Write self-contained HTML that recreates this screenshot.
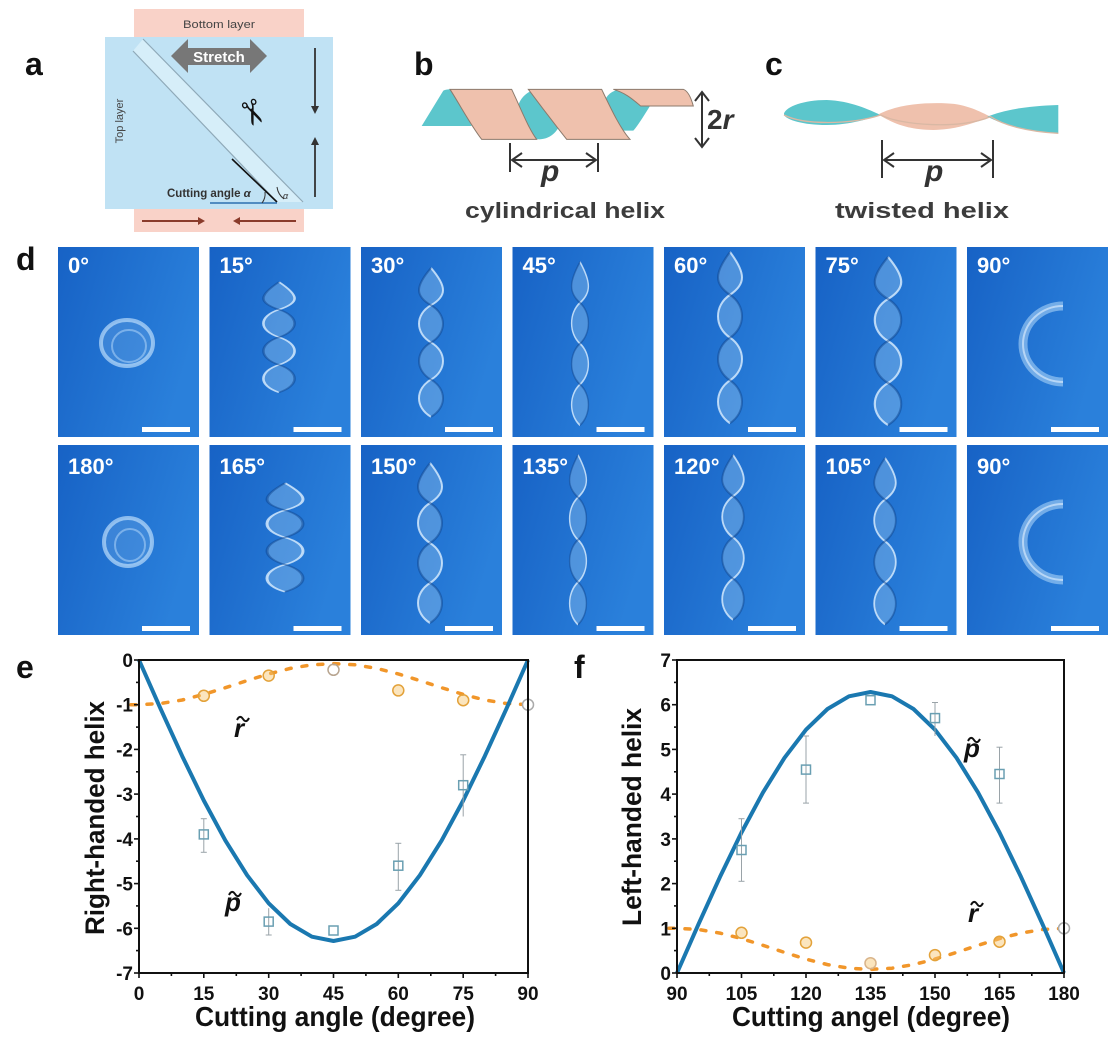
<!DOCTYPE html>
<html><head><meta charset="utf-8">
<style>
html,body{margin:0;padding:0;background:#fff;}
svg{display:block;}
</style></head>
<body>
<svg width="1116" height="1038" viewBox="0 0 1116 1038" xmlns="http://www.w3.org/2000/svg" font-family="'Liberation Sans', Arial, sans-serif">
<defs>
<linearGradient id="tg" x1="0" y1="0" x2="1" y2="0.4">
<stop offset="0" stop-color="#1762c5"/><stop offset="1" stop-color="#2a80db"/>
</linearGradient>
<g id="tw">
<path d="M0,0 C16,20 16,30 0,40 C-16,50 -16,70 0,80 C16,90 16,110 0,120 C-16,130 -16,150 0,160 C16,150 16,130 0,120 C-16,110 -16,90 0,80 C16,70 16,50 0,40 C-16,30 -16,20 0,0Z" fill="#a6d0f4" fill-opacity="0.35"/>
<path d="M0,0 C16,20 16,30 0,40 C-16,50 -16,70 0,80 C16,90 16,110 0,120 C-16,130 -16,150 0,160" fill="none" stroke="#dcefff" stroke-opacity="0.8" stroke-width="2"/>
<path d="M0,0 C-16,20 -16,30 0,40 C16,50 16,70 0,80 C-16,90 -16,110 0,120 C16,130 16,150 0,160" fill="none" stroke="#0b3f85" stroke-opacity="0.45" stroke-width="2"/>
</g>
</defs>

<!-- ================= Panel a ================= -->
<text x="25" y="75" font-size="32" font-weight="bold" fill="#111">a</text>
<rect x="134" y="9" width="170" height="223" fill="#f9d2c8"/>
<rect x="105" y="37" width="228" height="172" fill="#c0e2f4"/>
<text x="219" y="28" font-size="11" text-anchor="middle" fill="#444" textLength="72" lengthAdjust="spacingAndGlyphs">Bottom layer</text>
<polygon points="133,51 143,39 303,202 277,202" fill="#d6eef9"/>
<line x1="133" y1="51" x2="277" y2="202" stroke="#8fa9b8" stroke-width="1.2"/>
<line x1="143" y1="39" x2="303" y2="202" stroke="#8fa9b8" stroke-width="1.2"/>
<polygon points="171,56 188,39 188,48 250,48 250,39 267,56 250,73 250,65 188,65 188,73" fill="#777"/>
<text x="219" y="62" font-size="15" font-weight="bold" fill="#fff" text-anchor="middle">Stretch</text>
<text x="0" y="0" font-size="34" fill="#111" transform="translate(236,104) rotate(68)" font-family="'DejaVu Sans', sans-serif">✂</text>
<text transform="translate(123,121) rotate(-90)" font-size="11" text-anchor="middle" fill="#444">Top layer</text>
<line x1="315" y1="48" x2="315" y2="108" stroke="#333" stroke-width="1.8"/>
<polygon points="311,106 319,106 315,114" fill="#333"/>
<line x1="315" y1="197" x2="315" y2="143" stroke="#333" stroke-width="1.8"/>
<polygon points="311,145 319,145 315,137" fill="#333"/>
<line x1="232" y1="159" x2="277" y2="202" stroke="#111" stroke-width="1.6"/>
<line x1="210" y1="203" x2="277" y2="203" stroke="#2a6fb0" stroke-width="1.6"/>
<path d="M262,203 A15,15 0 0 0 265,192" fill="none" stroke="#333" stroke-width="1"/>
<path d="M277,187 A18,18 0 0 0 284,199" fill="none" stroke="#333" stroke-width="1"/>
<text x="167" y="197" font-size="11.5" font-weight="bold" fill="#333">Cutting angle <tspan font-style="italic">α</tspan></text>
<text x="283" y="199" font-size="9" font-style="italic" fill="#333">α</text>
<line x1="142" y1="221" x2="200" y2="221" stroke="#8a3b2b" stroke-width="2"/>
<polygon points="198,217 205,221 198,225" fill="#8a3b2b"/>
<line x1="296" y1="221" x2="238" y2="221" stroke="#8a3b2b" stroke-width="2"/>
<polygon points="240,217 233,221 240,225" fill="#8a3b2b"/>

<!-- ================= Panel b ================= -->
<text x="414" y="75" font-size="32" font-weight="bold" fill="#111">b</text>
<g transform="translate(400,50) scale(0.3333)">
<path d="M65,228 L130,122 Q140,117 158,118 C185,160 200,200 215,228 Z" fill="#5cc6cc"/>
<ellipse cx="418" cy="193" rx="68" ry="75" fill="#5cc6cc"/>
<path d="M615,150 Q630,118 670,118 L720,118 L750,168 C730,200 715,225 700,242 L660,242 C635,215 620,185 615,150 Z" fill="#5cc6cc"/>
<path d="M150,118 L335,118 C360,170 385,235 410,268 L245,268 C215,230 180,165 150,118 Z" fill="#efc1ad" stroke="#8c7a6c" stroke-width="3"/>
<path d="M385,118 L605,118 C630,170 660,235 690,268 L500,268 C470,230 420,165 385,118 Z" fill="#efc1ad" stroke="#8c7a6c" stroke-width="3"/>
<path d="M640,118 L850,118 Q868,124 880,168 L722,168 C700,150 680,130 640,118 Z" fill="#efc1ad" stroke="#8c7a6c" stroke-width="3"/>
</g>
<line x1="510" y1="143" x2="510" y2="172" stroke="#333" stroke-width="2"/>
<line x1="598" y1="143" x2="598" y2="172" stroke="#333" stroke-width="2"/>
<line x1="512" y1="160" x2="596" y2="160" stroke="#333" stroke-width="2"/>
<polyline points="522,153 512,160 522,167" fill="none" stroke="#333" stroke-width="2"/>
<polyline points="586,153 596,160 586,167" fill="none" stroke="#333" stroke-width="2"/>
<text x="541" y="181" font-size="30" font-weight="bold" font-style="italic" fill="#333">p</text>
<line x1="702" y1="93" x2="702" y2="146" stroke="#333" stroke-width="2"/>
<polyline points="695,101 702,92 709,101" fill="none" stroke="#333" stroke-width="2"/>
<polyline points="695,138 702,147 709,138" fill="none" stroke="#333" stroke-width="2"/>
<text x="707" y="129" font-size="28" font-weight="bold" fill="#333">2<tspan font-style="italic">r</tspan></text>
<text x="565" y="218" font-size="22" font-weight="bold" fill="#3c3c3c" text-anchor="middle" textLength="200" lengthAdjust="spacingAndGlyphs">cylindrical helix</text>

<!-- ================= Panel c ================= -->
<text x="765" y="75" font-size="32" font-weight="bold" fill="#111">c</text>
<g transform="translate(760,50) scale(0.3333)">
<path d="M72,190 C80,170 130,150 200,150 C270,152 330,180 362,195 C330,205 270,225 200,225 C130,225 80,210 72,195 Z" fill="#5cc6cc"/>
<path d="M355,193 C420,160 500,158 560,160 C620,162 660,185 692,200 C650,215 600,238 520,240 C440,240 390,215 355,193 Z" fill="#efc1ad"/>
<path d="M682,200 C730,180 800,168 895,165 L895,250 C800,245 730,225 682,200 Z" fill="#5cc6cc"/>
<path d="M72,195 C130,225 270,225 362,195 C420,225 600,240 692,200 C730,225 800,245 895,250" fill="none" stroke="#d9b8a4" stroke-width="4"/>
</g>
<line x1="882" y1="140" x2="882" y2="178" stroke="#333" stroke-width="2"/>
<line x1="993" y1="140" x2="993" y2="178" stroke="#333" stroke-width="2"/>
<line x1="884" y1="160" x2="991" y2="160" stroke="#333" stroke-width="2"/>
<polyline points="894,153 884,160 894,167" fill="none" stroke="#333" stroke-width="2"/>
<polyline points="981,153 991,160 981,167" fill="none" stroke="#333" stroke-width="2"/>
<text x="925" y="181" font-size="30" font-weight="bold" font-style="italic" fill="#333">p</text>
<text x="922" y="218" font-size="22" font-weight="bold" fill="#3c3c3c" text-anchor="middle" textLength="174" lengthAdjust="spacingAndGlyphs">twisted helix</text>

<!-- ================= Panel d ================= -->
<text x="16" y="270" font-size="32" font-weight="bold" fill="#111">d</text>
<g>
<rect x="58" y="247" width="141" height="190" fill="url(#tg)"/>
<rect x="209.5" y="247" width="141" height="190" fill="url(#tg)"/>
<rect x="361" y="247" width="141" height="190" fill="url(#tg)"/>
<rect x="512.5" y="247" width="141" height="190" fill="url(#tg)"/>
<rect x="664" y="247" width="141" height="190" fill="url(#tg)"/>
<rect x="815.5" y="247" width="141" height="190" fill="url(#tg)"/>
<rect x="967" y="247" width="141" height="190" fill="url(#tg)"/>
<rect x="58" y="445" width="141" height="190" fill="url(#tg)"/>
<rect x="209.5" y="445" width="141" height="190" fill="url(#tg)"/>
<rect x="361" y="445" width="141" height="190" fill="url(#tg)"/>
<rect x="512.5" y="445" width="141" height="190" fill="url(#tg)"/>
<rect x="664" y="445" width="141" height="190" fill="url(#tg)"/>
<rect x="815.5" y="445" width="141" height="190" fill="url(#tg)"/>
<rect x="967" y="445" width="141" height="190" fill="url(#tg)"/>
</g>
<!-- tile objects -->
<ellipse cx="127" cy="343" rx="26" ry="23" fill="#8cc0ee" fill-opacity="0.25" stroke="#b9dcfb" stroke-opacity="0.7" stroke-width="4"/>
<ellipse cx="129" cy="346" rx="17" ry="16" fill="none" stroke="#b9dcfb" stroke-opacity="0.5" stroke-width="2"/>
<ellipse cx="128" cy="542" rx="24" ry="24" fill="#8cc0ee" fill-opacity="0.25" stroke="#b9dcfb" stroke-opacity="0.7" stroke-width="4"/>
<ellipse cx="130" cy="545" rx="15" ry="16" fill="none" stroke="#b9dcfb" stroke-opacity="0.5" stroke-width="2"/>
<path d="M1063,306 A40,38 0 0 0 1063,382" fill="none" stroke="#a8d2f7" stroke-opacity="0.6" stroke-width="9"/>
<path d="M1063,306 A40,38 0 0 0 1063,382" fill="none" stroke="#e4f2ff" stroke-opacity="0.6" stroke-width="2"/>
<path d="M1063,504 A40,38 0 0 0 1063,580" fill="none" stroke="#a8d2f7" stroke-opacity="0.6" stroke-width="9"/>
<path d="M1063,504 A40,38 0 0 0 1063,580" fill="none" stroke="#e4f2ff" stroke-opacity="0.6" stroke-width="2"/>
<use href="#tw" transform="translate(279,282) scale(1.3,0.69)"/>
<use href="#tw" transform="translate(431,268) scale(1.0,0.93)"/>
<use href="#tw" transform="translate(580,262) scale(0.7,1.02)"/>
<use href="#tw" transform="translate(730,252) scale(1.0,1.07)"/>
<use href="#tw" transform="translate(888,257) scale(1.1,1.05)"/>
<use href="#tw" transform="translate(285,483) scale(1.5,0.68)"/>
<use href="#tw" transform="translate(430,463) scale(1.0,1.0)"/>
<use href="#tw" transform="translate(578,455) scale(0.7,1.06)"/>
<use href="#tw" transform="translate(733,455) scale(0.9,1.03)"/>
<use href="#tw" transform="translate(885,458) scale(0.9,1.04)"/>
<!-- labels -->
<g font-size="22" font-weight="bold" fill="#fff">
<text x="68" y="273">0°</text>
<text x="219.5" y="273">15°</text>
<text x="371" y="273">30°</text>
<text x="522.5" y="273">45°</text>
<text x="674" y="273">60°</text>
<text x="825.5" y="273">75°</text>
<text x="977" y="273">90°</text>
<text x="68" y="474">180°</text>
<text x="219.5" y="474">165°</text>
<text x="371" y="474">150°</text>
<text x="522.5" y="474">135°</text>
<text x="674" y="474">120°</text>
<text x="825.5" y="474">105°</text>
<text x="977" y="474">90°</text>
</g>
<g fill="#fff">
<rect x="142" y="427" width="48" height="5"/>
<rect x="293.5" y="427" width="48" height="5"/>
<rect x="445" y="427" width="48" height="5"/>
<rect x="596.5" y="427" width="48" height="5"/>
<rect x="748" y="427" width="48" height="5"/>
<rect x="899.5" y="427" width="48" height="5"/>
<rect x="1051" y="427" width="48" height="5"/>
<rect x="142" y="626" width="48" height="5"/>
<rect x="293.5" y="626" width="48" height="5"/>
<rect x="445" y="626" width="48" height="5"/>
<rect x="596.5" y="626" width="48" height="5"/>
<rect x="748" y="626" width="48" height="5"/>
<rect x="899.5" y="626" width="48" height="5"/>
<rect x="1051" y="626" width="48" height="5"/>
</g>

<!-- ================= Panel e ================= -->
<text x="16" y="678" font-size="32" font-weight="bold" fill="#111">e</text>
<path d="M131,704.7 L139,704.7 L160.6,703.5 L182.2,700 L203.8,694.4 L225.4,687.7 L247.1,680.6 L268.7,673.9 L290.3,668.4 L311.9,664.8 L333.5,663.6 L355.1,664.8 L376.7,668.4 L398.3,673.9 L419.9,680.6 L441.6,687.7 L463.2,694.4 L484.8,700 L506.4,703.5 L528,704.7" fill="none" stroke="#f1962a" stroke-width="3.5" stroke-dasharray="5 11" stroke-linecap="round"/>
<path d="M139,660 L160.6,708.8 L182.2,756.1 L203.8,800.5 L225.4,840.6 L247.1,875.2 L268.7,903.3 L290.3,924 L311.9,936.7 L333.5,941 L355.1,936.7 L376.7,924 L398.3,903.3 L419.9,875.2 L441.6,840.6 L463.2,800.5 L484.8,756.1 L506.4,708.8 L528,660" fill="none" stroke="#1a78b0" stroke-width="4" stroke-linejoin="round"/>
<!-- e error bars -->
<g stroke="#9aa3a8" stroke-width="1">
<line x1="203.8" y1="818.7" x2="203.8" y2="852.3"/><line x1="200.8" y1="818.7" x2="206.8" y2="818.7"/><line x1="200.8" y1="852.3" x2="206.8" y2="852.3"/>
<line x1="268.7" y1="908.2" x2="268.7" y2="935"/><line x1="265.7" y1="935" x2="271.7" y2="935"/>
<line x1="398.3" y1="843.3" x2="398.3" y2="890.3"/><line x1="395.3" y1="843.3" x2="401.3" y2="843.3"/><line x1="395.3" y1="890.3" x2="401.3" y2="890.3"/>
<line x1="463.2" y1="754.8" x2="463.2" y2="816.5"/><line x1="460.2" y1="754.8" x2="466.2" y2="754.8"/>
</g>
<g fill="none" stroke="#6a9fb2" stroke-width="1.5">
<rect x="199.3" y="829.9" width="9" height="9"/>
<rect x="264.2" y="917.1" width="9" height="9"/>
<rect x="329" y="926" width="9" height="9"/>
<rect x="393.8" y="861.2" width="9" height="9"/>
<rect x="458.7" y="780.7" width="9" height="9"/>
</g>
<g stroke="#e3a23a" stroke-width="1.5" fill="#f6c66e" fill-opacity="0.45">
<circle cx="203.8" cy="695.8" r="5.5"/>
<circle cx="268.7" cy="675.6" r="5.5"/>
<circle cx="333.5" cy="669.8" r="5.5" stroke="#b8a590" fill="none"/>
<circle cx="398.3" cy="690.4" r="5.5"/>
<circle cx="463.2" cy="700.2" r="5.5"/>
<circle cx="528" cy="704.7" r="5.5" stroke="#aaa" fill="#fff" fill-opacity="1"/>
</g>
<rect x="139" y="660" width="389" height="313" fill="none" stroke="#111" stroke-width="2"/>
<g stroke="#111" stroke-width="1.6">
<line x1="134" y1="660" x2="139" y2="660"/><line x1="134" y1="704.7" x2="139" y2="704.7"/><line x1="134" y1="749.4" x2="139" y2="749.4"/><line x1="134" y1="794.1" x2="139" y2="794.1"/><line x1="134" y1="838.9" x2="139" y2="838.9"/><line x1="134" y1="883.6" x2="139" y2="883.6"/><line x1="134" y1="928.3" x2="139" y2="928.3"/><line x1="134" y1="973" x2="139" y2="973"/>
<line x1="136" y1="682.4" x2="139" y2="682.4"/><line x1="136" y1="727.1" x2="139" y2="727.1"/><line x1="136" y1="771.8" x2="139" y2="771.8"/><line x1="136" y1="816.5" x2="139" y2="816.5"/><line x1="136" y1="861.2" x2="139" y2="861.2"/><line x1="136" y1="905.9" x2="139" y2="905.9"/><line x1="136" y1="950.6" x2="139" y2="950.6"/>
<line x1="139" y1="973" x2="139" y2="978"/><line x1="203.8" y1="973" x2="203.8" y2="978"/><line x1="268.7" y1="973" x2="268.7" y2="978"/><line x1="333.5" y1="973" x2="333.5" y2="978"/><line x1="398.3" y1="973" x2="398.3" y2="978"/><line x1="463.2" y1="973" x2="463.2" y2="978"/><line x1="528" y1="973" x2="528" y2="978"/>
<line x1="171.4" y1="973" x2="171.4" y2="976"/><line x1="236.3" y1="973" x2="236.3" y2="976"/><line x1="301.1" y1="973" x2="301.1" y2="976"/><line x1="365.9" y1="973" x2="365.9" y2="976"/><line x1="430.8" y1="973" x2="430.8" y2="976"/><line x1="495.6" y1="973" x2="495.6" y2="976"/>
</g>
<g font-size="19" font-weight="bold" fill="#111" text-anchor="end">
<text x="133" y="667">0</text><text x="133" y="711.7">-1</text><text x="133" y="756.4">-2</text><text x="133" y="801.1">-3</text><text x="133" y="845.9">-4</text><text x="133" y="890.6">-5</text><text x="133" y="935.3">-6</text><text x="133" y="980">-7</text>
</g>
<g font-size="19" font-weight="bold" fill="#111" text-anchor="middle">
<text x="139" y="1000">0</text><text x="203.8" y="1000">15</text><text x="268.7" y="1000">30</text><text x="333.5" y="1000">45</text><text x="398.3" y="1000">60</text><text x="463.2" y="1000">75</text><text x="528" y="1000">90</text>
</g>
<text x="335" y="1026" font-size="28" font-weight="bold" fill="#111" text-anchor="middle" textLength="280" lengthAdjust="spacingAndGlyphs">Cutting angle (degree)</text>
<text transform="translate(104,818) rotate(-90)" font-size="27" font-weight="bold" fill="#111" text-anchor="middle" textLength="234" lengthAdjust="spacingAndGlyphs">Right-handed helix</text>
<text x="234" y="737" font-size="26" font-weight="bold" font-style="italic" fill="#111">r</text>
<path d="M237,720 c2,-4 4,-4 6,-1 s4,3 6,-1" fill="none" stroke="#111" stroke-width="2"/>
<text x="225" y="911" font-size="26" font-weight="bold" font-style="italic" fill="#111">p</text>
<path d="M229,895 c2,-4 4,-4 6,-1 s4,3 6,-1" fill="none" stroke="#111" stroke-width="2"/>

<!-- ================= Panel f ================= -->
<text x="574" y="678" font-size="32" font-weight="bold" fill="#111">f</text>
<path d="M669,928.3 L677,928.3 L698.5,929.5 L720,933.1 L741.5,938.6 L763,945.3 L784.5,952.4 L806,959.1 L827.5,964.6 L849,968.2 L870.5,969.4 L892,968.2 L913.5,964.6 L935,959.1 L956.5,952.4 L978,945.3 L999.5,938.6 L1021,933.1 L1042.5,929.5 L1064,928.3" fill="none" stroke="#f1962a" stroke-width="3.5" stroke-dasharray="5 11" stroke-linecap="round"/>
<path d="M677,973 L698.5,924.2 L720,876.9 L741.5,832.5 L763,792.4 L784.5,757.8 L806,729.7 L827.5,709 L849,696.3 L870.5,692 L892,696.3 L913.5,709 L935,729.7 L956.5,757.8 L978,792.4 L999.5,832.5 L1021,876.9 L1042.5,924.2 L1064,973" fill="none" stroke="#1a78b0" stroke-width="4" stroke-linejoin="round"/>
<g stroke="#9aa3a8" stroke-width="1">
<line x1="741.5" y1="818.7" x2="741.5" y2="881.3"/><line x1="738.5" y1="818.7" x2="744.5" y2="818.7"/><line x1="738.5" y1="881.3" x2="744.5" y2="881.3"/>
<line x1="806" y1="736" x2="806" y2="803.1"/><line x1="803" y1="736" x2="809" y2="736"/><line x1="803" y1="803.1" x2="809" y2="803.1"/>
<line x1="935" y1="702.5" x2="935" y2="736"/><line x1="932" y1="702.5" x2="938" y2="702.5"/>
<line x1="999.5" y1="747.2" x2="999.5" y2="803.1"/><line x1="996.5" y1="747.2" x2="1002.5" y2="747.2"/><line x1="996.5" y1="803.1" x2="1002.5" y2="803.1"/>
</g>
<g fill="none" stroke="#6a9fb2" stroke-width="1.5">
<rect x="737" y="845.5" width="9" height="9"/>
<rect x="801.5" y="765.1" width="9" height="9"/>
<rect x="866" y="695.7" width="9" height="9"/>
<rect x="930.5" y="713.6" width="9" height="9"/>
<rect x="995" y="769.5" width="9" height="9"/>
</g>
<g stroke="#e3a23a" stroke-width="1.5" fill="#f6c66e" fill-opacity="0.45">
<circle cx="741.5" cy="932.8" r="5.5"/>
<circle cx="806" cy="942.6" r="5.5"/>
<circle cx="870.5" cy="963.2" r="5.5" stroke="#d9b48a"/>
<circle cx="935" cy="955.1" r="5.5"/>
<circle cx="999.5" cy="941.7" r="5.5"/>
<circle cx="1064" cy="928.3" r="5.5" stroke="#aaa" fill="#fff" fill-opacity="1"/>
</g>
<rect x="677" y="660" width="387" height="313" fill="none" stroke="#111" stroke-width="2"/>
<g stroke="#111" stroke-width="1.6">
<line x1="672" y1="660" x2="677" y2="660"/><line x1="672" y1="704.7" x2="677" y2="704.7"/><line x1="672" y1="749.4" x2="677" y2="749.4"/><line x1="672" y1="794.1" x2="677" y2="794.1"/><line x1="672" y1="838.9" x2="677" y2="838.9"/><line x1="672" y1="883.6" x2="677" y2="883.6"/><line x1="672" y1="928.3" x2="677" y2="928.3"/><line x1="672" y1="973" x2="677" y2="973"/>
<line x1="674" y1="682.4" x2="677" y2="682.4"/><line x1="674" y1="727.1" x2="677" y2="727.1"/><line x1="674" y1="771.8" x2="677" y2="771.8"/><line x1="674" y1="816.5" x2="677" y2="816.5"/><line x1="674" y1="861.2" x2="677" y2="861.2"/><line x1="674" y1="905.9" x2="677" y2="905.9"/><line x1="674" y1="950.6" x2="677" y2="950.6"/>
<line x1="677" y1="973" x2="677" y2="978"/><line x1="741.5" y1="973" x2="741.5" y2="978"/><line x1="806" y1="973" x2="806" y2="978"/><line x1="870.5" y1="973" x2="870.5" y2="978"/><line x1="935" y1="973" x2="935" y2="978"/><line x1="999.5" y1="973" x2="999.5" y2="978"/><line x1="1064" y1="973" x2="1064" y2="978"/>
<line x1="709.3" y1="973" x2="709.3" y2="976"/><line x1="773.8" y1="973" x2="773.8" y2="976"/><line x1="838.3" y1="973" x2="838.3" y2="976"/><line x1="902.8" y1="973" x2="902.8" y2="976"/><line x1="967.3" y1="973" x2="967.3" y2="976"/><line x1="1031.8" y1="973" x2="1031.8" y2="976"/>
</g>
<g font-size="19" font-weight="bold" fill="#111" text-anchor="end">
<text x="671" y="980">0</text><text x="671" y="935.3">1</text><text x="671" y="890.6">2</text><text x="671" y="845.9">3</text><text x="671" y="801.1">4</text><text x="671" y="756.4">5</text><text x="671" y="711.7">6</text><text x="671" y="667">7</text>
</g>
<g font-size="19" font-weight="bold" fill="#111" text-anchor="middle">
<text x="677" y="1000">90</text><text x="741.5" y="1000">105</text><text x="806" y="1000">120</text><text x="870.5" y="1000">135</text><text x="935" y="1000">150</text><text x="999.5" y="1000">165</text><text x="1064" y="1000">180</text>
</g>
<text x="871" y="1026" font-size="28" font-weight="bold" fill="#111" text-anchor="middle" textLength="278" lengthAdjust="spacingAndGlyphs">Cutting angel (degree)</text>
<text transform="translate(641,817) rotate(-90)" font-size="27" font-weight="bold" fill="#111" text-anchor="middle" textLength="218" lengthAdjust="spacingAndGlyphs">Left-handed helix</text>
<text x="964" y="757" font-size="26" font-weight="bold" font-style="italic" fill="#111">p</text>
<path d="M968,741 c2,-4 4,-4 6,-1 s4,3 6,-1" fill="none" stroke="#111" stroke-width="2"/>
<text x="968" y="922" font-size="26" font-weight="bold" font-style="italic" fill="#111">r</text>
<path d="M971,905 c2,-4 4,-4 6,-1 s4,3 6,-1" fill="none" stroke="#111" stroke-width="2"/>
</svg>
</body></html>
